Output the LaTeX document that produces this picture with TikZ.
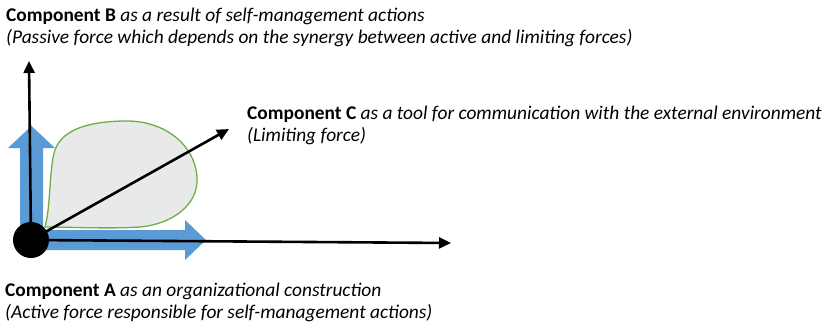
\documentclass[tikz,border=0pt]{standalone}
\usepackage{fontspec}
\setmainfont{Carlito}
\usetikzlibrary{arrows.meta}
\definecolor{forceblue}{RGB}{91,155,213}
\definecolor{blobgreen}{RGB}{112,173,71}
\definecolor{blobfill}{RGB}{232,234,234}
\begin{document}
\begin{tikzpicture}[x=1pt,y=-1pt,
  label/.style={anchor=base west,inner sep=0pt,font=\fontsize{19.4}{23}\selectfont},
  axis/.style={line width=2.6pt,-{Triangle[length=12pt,width=11pt]}},
  force/.style={fill=forceblue,draw=none},
  blob/.style={draw=blobgreen,line width=1.3pt,fill=blobfill}]
\useasboundingbox (0,0) rectangle (826,322);

% thick blue force arrows
\fill[forceblue] (20,240) -- (20,148) -- (8,148) -- (31.5,126) -- (55,148) -- (43,148) -- (43,240) -- cycle;
\fill[forceblue] (31,230) -- (185,230) -- (185,220) -- (206,240) -- (185,260) -- (185,250) -- (31,250) -- cycle;

% shaded region of the passive force
\draw[blob] (45,227) .. controls (51,205) and (49,168) .. (55,150)
  .. controls (63,127) and (95,121) .. (127,121)
  .. controls (165,121) and (195,145) .. (197,177)
  .. controls (199,205) and (172,224) .. (140,227)
  .. controls (110,229) and (70,227) .. (45,227) -- cycle;

% origin and component axes
\node[circle,fill=black,minimum size=36pt,inner sep=0pt] (O) at (31,240) {};
\coordinate (Btip) at (29,61);
\coordinate (Ctip) at (229,129);
\coordinate (Atip) at (451,243);
\draw[axis] (O.center) -- (Btip);
\draw[axis] (O.center) -- (Ctip);
\draw[axis] (O.center) -- (Atip);

% labels
\node[label] (B1) at (6,21) {\textbf{Component B} \textit{as a result of self-management actions}};
\node[label] (B2) at (6,43) {\textit{(Passive force which depends on the synergy between active and limiting forces)}};
\node[label] (C1) at (247,119) {\textbf{Component C} \textit{as a tool for communication with the external environment}};
\node[label] (C2) at (247,141) {\textit{(Limiting force)}};
\node[label] (A1) at (5,296) {\textbf{Component A} \textit{as an organizational construction}};
\node[label] (A2) at (5,318) {\textit{(Active force responsible for self-management actions)}};
\end{tikzpicture}
\end{document}
